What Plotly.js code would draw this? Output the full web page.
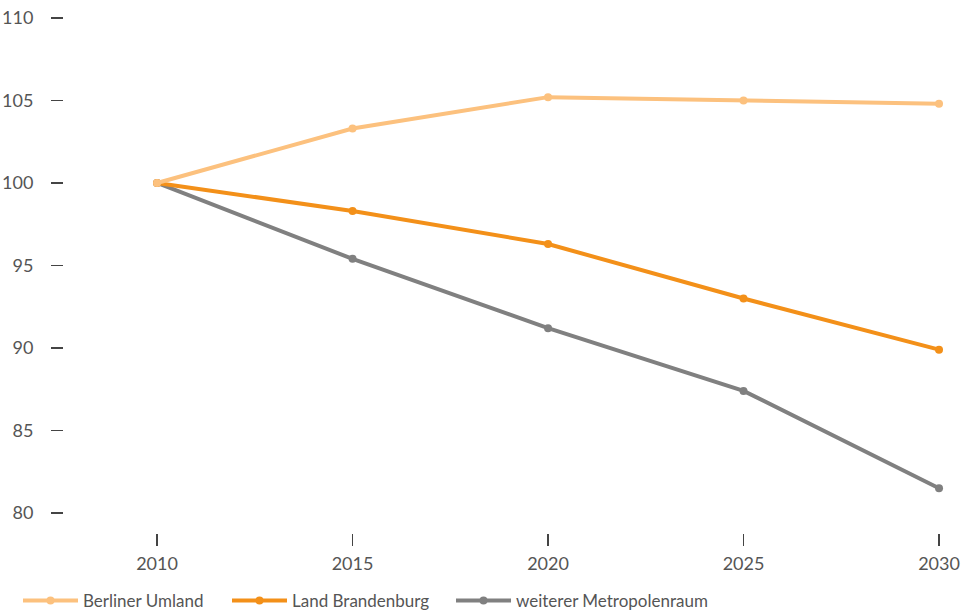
<!DOCTYPE html>
<html><head><meta charset="utf-8">
<script src="https://cdn.plot.ly/plotly-3.0.1.min.js"></script>
<style>html,body{margin:0;padding:0;background:#fff;}#chart{width:966px;height:613px;}</style>
</head><body><div id="chart"></div>
<script>
const years = [2010, 2015, 2020, 2025, 2030];
const berlinerUmland = [100, 103.3, 105.2, 105.0, 104.8];
const landBrandenburg = [100, 98.3, 96.3, 93.0, 89.9];
const weitererMetropolenraum = [100, 95.4, 91.2, 87.4, 81.5];
const seriesNames = ['Berliner Umland', 'Land Brandenburg', 'weiterer Metropolenraum'];
const yTicks = [80, 85, 90, 95, 100, 105, 110];

const font = 'Lato, "Open Sans", "Noto Sans", sans-serif';
function tr(y, name, color, lg) {
  return {x: years, y: y, name: name, type: 'scatter', mode: 'lines+markers',
    line: {color: color, width: 4}, marker: {color: color, size: 8}, legend: lg};
}
const data = [
  tr(weitererMetropolenraum, seriesNames[2], '#808080', 'legend3'),
  tr(landBrandenburg, seriesNames[1], '#F39019', 'legend2'),
  tr(berlinerUmland, seriesNames[0], '#FCC17E', 'legend')
];
function lg(xpx) {
  return {orientation: 'h', xref: 'container', yref: 'container', x: xpx / 966, y: 12 / 613,
    xanchor: 'left', yanchor: 'middle', font: {size: 17, color: '#555'}, itemwidth: 55,
    bgcolor: 'rgba(0,0,0,0)'};
}
const layout = {
  width: 966, height: 613,
  margin: {l: 64, r: 0, t: 10, b: 80},
  paper_bgcolor: '#fff', plot_bgcolor: '#fff',
  font: {family: font, size: 17, color: '#555'},
  showlegend: true,
  legend: lg(18), legend2: lg(227), legend3: lg(451),
  xaxis: {range: [2007.62, 2030.69], tickvals: years, ticktext: years.map(String),
    showgrid: false, zeroline: false, showline: false, ticks: 'outside', ticklen: 12,
    tickwidth: 1.5, tickcolor: '#444', ticklabelstandoff: 2, tickfont: {size: 18, color: '#555'}},
  yaxis: {range: [78.79, 110.48], tickvals: yTicks, showgrid: false, zeroline: false,
    showline: false, ticks: 'outside', ticklen: 12, tickwidth: 1.5, tickcolor: '#444',
    ticklabelstandoff: 14, tickfont: {size: 18, color: '#555'}}
};
Plotly.newPlot('chart', data, layout, {displayModeBar: false, staticPlot: true});
</script></body></html>
